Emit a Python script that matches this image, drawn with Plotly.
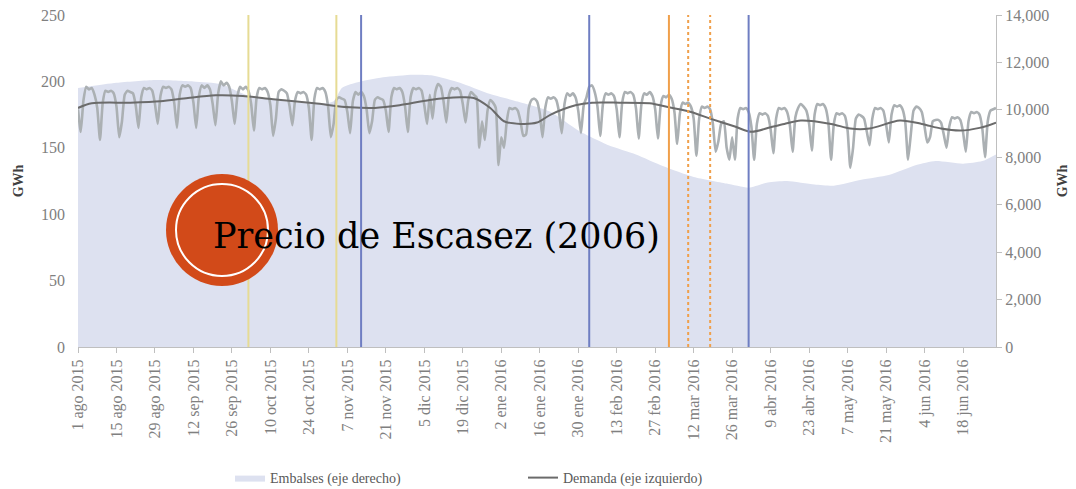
import plotly.graph_objects as go
import pandas as pd

# ---------------- data ----------------
# Daily demand (GWh, left axis): 1 Aug 2015 (Sat) .. 30 Jun 2016
demanda_inicio = "2015-08-01"
demanda_diaria = [
    179,
    162, 186, 196, 194, 195, 190, 180,   # 2 ago
    156, 184, 193, 192, 193, 191, 181,   # 9 ago
    158, 170, 190, 193, 192, 191, 182,   # 16 ago
    165, 188, 195, 194, 195, 193, 183,   # 23 ago
    168, 189, 196, 195, 196, 194, 184,   # 30 ago
    165, 190, 197, 196, 197, 195, 184,   # 6 sep
    165, 189, 197, 195, 197, 194, 183,   # 13 sep
    167, 191, 200, 197, 199, 196, 185,   # 20 sep
    168, 189, 196, 194, 196, 193, 183,   # 27 sep
    163, 188, 195, 194, 195, 192, 182,   # 4 oct
    159, 172, 192, 194, 193, 191, 181,   # 11 oct
    167, 186, 192, 191, 192, 190, 180,   # 18 oct
    156, 187, 195, 194, 195, 192, 181,   # 25 oct
    158, 168, 186, 188, 187, 186, 177,   # 1 nov
    161, 185, 192, 190, 192, 189, 179,   # 8 nov
    161, 170, 186, 188, 187, 186, 178,   # 15 nov
    162, 188, 195, 194, 195, 192, 181,   # 22 nov
    162, 188, 195, 194, 195, 193, 182,   # 29 nov
    168, 190, 172, 192, 198, 196, 185,   # 6 dic
    169, 190, 195, 194, 195, 193, 183,   # 13 dic
    169, 186, 192, 190, 188, 150, 170,   # 20 dic
    156, 178, 186, 184, 180, 137, 158,   # 27 dic
    150, 170, 180, 179, 180, 178, 170,   # 3 ene
    159, 160, 180, 186, 187, 185, 176,   # 10 ene
    158, 180, 188, 187, 188, 186, 177,   # 17 ene
    161, 183, 191, 189, 191, 188, 178,   # 24 ene
    161, 182, 188, 196, 197, 192, 181,   # 31 ene
    159, 183, 191, 190, 191, 189, 179,   # 7 feb
    158, 184, 192, 191, 192, 190, 180,   # 14 feb
    157, 183, 191, 190, 192, 189, 179,   # 21 feb
    157, 182, 189, 188, 190, 187, 177,   # 28 feb
    153, 176, 184, 183, 184, 181, 172,   # 6 mar
    144, 172, 181, 180, 181, 179, 168,   # 13 mar
    147, 155, 168, 170, 150, 141, 158,   # 20 mar
    141, 172, 180, 179, 180, 177, 166,   # 27 mar
    141, 168, 176, 175, 176, 174, 164,   # 3 abr
    146, 172, 180, 179, 180, 177, 167,   # 10 abr
    147, 173, 180, 183, 181, 178, 168,   # 17 abr
    148, 175, 183, 182, 183, 180, 169,   # 24 abr
    141, 168, 176, 175, 176, 174, 163,   # 1 may
    135, 150, 172, 175, 174, 172, 162,   # 8 may
    152, 172, 180, 179, 180, 178, 168,   # 15 may
    154, 175, 182, 181, 182, 179, 169,   # 22 may
    141, 160, 178, 181, 180, 177, 166,   # 29 may
    154, 158, 170, 171, 171, 169, 160,   # 5 jun
    150, 166, 173, 172, 173, 171, 162,   # 12 jun
    147, 170, 177, 176, 177, 175, 165,   # 19 jun
    143, 170, 178, 179, 180,             # 26 jun
]

# Smoothed demand (dark line, left axis)
tendencia_fechas = [
    "2015-08-01", "2015-08-06", "2015-08-20", "2015-08-31", "2015-09-10",
    "2015-09-20", "2015-09-30", "2015-10-11", "2015-10-26", "2015-11-08",
    "2015-11-17", "2015-11-26", "2015-12-07", "2015-12-18", "2015-12-23",
    "2015-12-29", "2016-01-03", "2016-01-09", "2016-01-15", "2016-01-20",
    "2016-01-29", "2016-02-04", "2016-02-14", "2016-02-25", "2016-03-03",
    "2016-03-11", "2016-03-18", "2016-03-27", "2016-04-02", "2016-04-09",
    "2016-04-14", "2016-04-20", "2016-05-01", "2016-05-08", "2016-05-15",
    "2016-05-26", "2016-06-03", "2016-06-10", "2016-06-17", "2016-06-24",
    "2016-06-30",
]
tendencia_valores = [
    180, 183.5, 184, 185, 187.5,
    189.5, 189, 186.5, 183.5, 180.5,
    180, 182, 186, 188, 187.5,
    180, 170, 168, 169, 175,
    182, 184, 184, 183.5, 180.5,
    177, 172, 166, 162, 165.5,
    168, 170.5, 168, 164.5, 164.5,
    170.5, 168, 164.5, 163, 165,
    169,
]

# Reservoirs (GWh, right axis)
embalses_fechas = [
    "2015-08-01", "2015-08-15", "2015-08-29", "2015-09-12", "2015-09-22",
    "2015-10-01", "2015-10-15", "2015-10-28", "2015-11-02", "2015-11-05",
    "2015-11-10", "2015-11-20", "2015-12-01", "2015-12-08", "2015-12-18",
    "2015-12-28", "2016-01-08", "2016-01-20", "2016-01-30", "2016-02-10",
    "2016-02-20", "2016-03-01", "2016-03-12", "2016-03-24", "2016-04-01",
    "2016-04-08", "2016-04-15", "2016-04-25", "2016-05-02", "2016-05-12",
    "2016-05-22", "2016-06-01", "2016-06-08", "2016-06-18", "2016-06-25",
    "2016-06-30",
]
embalses_valores = [
    10920, 11140, 11260, 11200, 11090,
    10640, 10360, 10250, 10360, 10920,
    11140, 11370, 11480, 11450, 11140,
    10700, 10350, 9910, 9130, 8510,
    8120, 7620, 7170, 6890, 6720,
    6940, 7000, 6850, 6800, 7050,
    7250, 7670, 7840, 7730, 7840,
    8120,
]

# Event markers
eventos_fechas = ["2015-10-02", "2015-11-03", "2015-11-12", "2016-02-03",
                  "2016-03-03", "2016-03-10", "2016-03-18", "2016-04-01"]
eventos_colores = ["#E6DB94", "#E6DB94", "#6F7EC2", "#6F7EC2",
                   "#F0A04B", "#F0A04B", "#F0A04B", "#6F7EC2"]
eventos_estilos = ["solid", "solid", "solid", "solid",
                   "solid", "dot", "dot", "solid"]

# X ticks
ticks_fechas = ["2015-08-01", "2015-08-15", "2015-08-29", "2015-09-12", "2015-09-26",
                "2015-10-10", "2015-10-24", "2015-11-07", "2015-11-21", "2015-12-05",
                "2015-12-19", "2016-01-02", "2016-01-16", "2016-01-30", "2016-02-13",
                "2016-02-27", "2016-03-12", "2016-03-26", "2016-04-09", "2016-04-23",
                "2016-05-07", "2016-05-21", "2016-06-04", "2016-06-18"]
ticks_texto = ["1 ago 2015", "15 ago 2015", "29 ago 2015", "12 sep 2015", "26 sep 2015",
               "10 oct 2015", "24 oct 2015", "7 nov 2015", "21 nov 2015", "5 dic 2015",
               "19 dic 2015", "2 ene 2016", "16 ene 2016", "30 ene 2016", "13 feb 2016",
               "27 feb 2016", "12 mar 2016", "26 mar 2016", "9 abr 2016", "23 abr 2016",
               "7 may 2016", "21 may 2016", "4 jun 2016", "18 jun 2016"]

titulo = "Precio de Escasez (2006)"

# ---------------- figure ----------------
dias = pd.date_range(demanda_inicio, periods=len(demanda_diaria), freq="D")

SERIF = "Liberation Serif"
GRIS = "#808080"

# page body has an 8px default margin -> figure is 8px smaller each way
W, H = 1068, 481
ML, MR, MT, MB = 70, 80, 7, 142
PW, PH = W - ML - MR, H - MT - MB
OFF = 8


def px(xp):
    return (xp - OFF - ML) / PW


def py(yp):
    return (H - MB - (yp - OFF)) / PH


fig = go.Figure()

fig.add_trace(go.Scatter(
    x=embalses_fechas, y=embalses_valores, name="Embalses (eje derecho)",
    mode="lines", line=dict(width=0, shape="spline", smoothing=0.6),
    fill="tozeroy", fillcolor="#DDE1F0", yaxis="y", hoverinfo="skip",
))
fig.add_trace(go.Scatter(
    x=dias, y=demanda_diaria, name="Demanda diaria", showlegend=False,
    mode="lines", line=dict(color="#ABB0B3", width=2.6, shape="spline", smoothing=0.5),
    yaxis="y2",
))
fig.add_trace(go.Scatter(
    x=tendencia_fechas, y=tendencia_valores, name="Demanda (eje izquierdo)",
    mode="lines", line=dict(color="#6B6B6B", width=2, shape="spline", smoothing=0.8),
    yaxis="y2",
))

shapes = []
for f, c, s in zip(eventos_fechas, eventos_colores, eventos_estilos):
    shapes.append(dict(type="line", xref="x", yref="paper", x0=f, x1=f, y0=0, y1=1,
                       line=dict(color=c, width=2, dash=s)))

cx, cy = px(222), py(230)
shapes.append(dict(type="circle", xref="paper", yref="paper", xsizemode="pixel",
                   ysizemode="pixel", xanchor=cx, yanchor=cy, x0=-56, x1=56, y0=-56, y1=56,
                   fillcolor="#D24A19", line=dict(width=0)))
shapes.append(dict(type="circle", xref="paper", yref="paper", xsizemode="pixel",
                   ysizemode="pixel", xanchor=cx, yanchor=cy, x0=-46, x1=46, y0=-46, y1=46,
                   fillcolor="rgba(0,0,0,0)", line=dict(color="white", width=2)))

fig.update_layout(
    width=W, height=H,
    margin=dict(l=ML, r=MR, t=MT, b=MB, autoexpand=False),
    paper_bgcolor="white", plot_bgcolor="white",
    showlegend=True,
    legend=dict(orientation="h", x=px(230), xanchor="left", y=py(478), yanchor="middle",
                font=dict(family=SERIF, size=14, color="#595959"),
                entrywidth=248, entrywidthmode="pixels", bgcolor="rgba(0,0,0,0)"),
    xaxis=dict(
        type="date", range=["2015-08-01", "2016-06-30"],
        tickmode="array", tickvals=ticks_fechas, ticktext=ticks_texto,
        tickangle=-90, tickfont=dict(family=SERIF, size=16, color=GRIS),
        showgrid=False, zeroline=False, showline=True, linecolor="#BFBFBF", linewidth=1,
        ticks="outside", ticklen=5, tickcolor="#BFBFBF", ticklabeloverflow="allow",
    ),
    yaxis=dict(
        side="right", range=[0, 14000], tickvals=[0, 2000, 4000, 6000, 8000, 10000, 12000, 14000],
        tickformat=",", tickfont=dict(family=SERIF, size=16, color=GRIS),
        showgrid=False, zeroline=False, showline=True, linecolor="#BFBFBF", linewidth=1,
        ticks="outside", ticklen=5, tickcolor="#BFBFBF", ticklabeloverflow="allow",
        title=dict(text="GWh", font=dict(family=SERIF, size=14, color="#404040", weight="bold"),
                   standoff=8),
    ),
    yaxis2=dict(
        overlaying="y", side="left", range=[0, 250], tickvals=[0, 50, 100, 150, 200, 250],
        tickfont=dict(family=SERIF, size=16, color=GRIS),
        showgrid=False, zeroline=False, showline=False, ticks="", ticklabelstandoff=12,
        ticklabeloverflow="allow",
        title=dict(text="GWh", font=dict(family=SERIF, size=14, color="#404040", weight="bold"),
                   standoff=14),
    ),
    shapes=shapes,
    annotations=[dict(text=titulo, xref="paper", yref="paper", x=px(436),
                      y=py(236), xanchor="center", yanchor="middle",
                      showarrow=False,
                      font=dict(family="DejaVu Serif", size=35, color="black"))],
)

fig.write_html("out.html")
